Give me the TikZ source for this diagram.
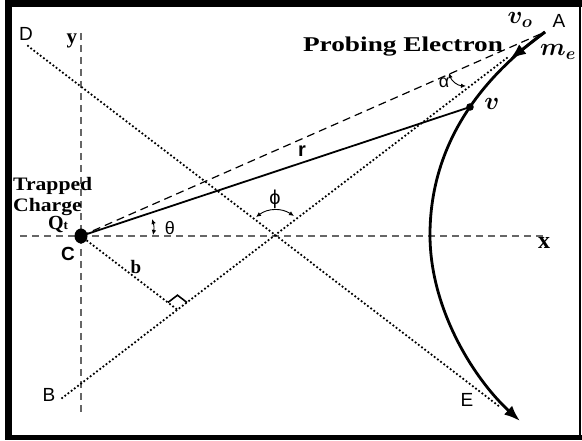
\documentclass[tikz,border=0pt]{standalone}
\usepackage{fontspec}
\setmainfont{Liberation Serif}
\newfontfamily\lsans{Liberation Sans}
\usepackage{bm}
\usetikzlibrary{arrows.meta,calc}
\begin{document}
\begin{tikzpicture}[x=1pt,y=1pt,
  dotline/.style={line width=2.5pt, dash pattern=on 0pt off 4pt, line cap=round},
  axisline/.style={line width=1.3pt, draw=black!60, dash pattern=on 7pt off 5pt},
  dashline/.style={line width=1.2pt, dash pattern=on 8pt off 5pt},
  traj/.style={line width=2.8pt, -{Latex[length=16pt,width=12pt]}},
  anglearc/.style={line width=0.9pt, {Latex[length=5pt,width=4.5pt]}-{Latex[length=5pt,width=4.5pt]}},
  sanslbl/.style={font={\lsans\fontsize{19}{21}\selectfont}, inner sep=0pt},
  greeklbl/.style={font={\lsans\fontsize{18}{20}\selectfont}, inner sep=0pt},
  seriflbl/.style={font={\bfseries\fontsize{20}{22}\selectfont}, inner sep=0pt},
  mathlbl/.style={font={\fontsize{24}{26}\selectfont}, inner sep=0pt}]
\useasboundingbox (0,0) rectangle (582,440);
% frame
\fill[black] (5,0) rectangle (12,440);
\fill[black] (5,433) rectangle (582,440);
\fill[black] (5,0) rectangle (582,5);
\fill[black] (579,0) rectangle (581,440);
% key points
\coordinate (C) at (81,204);
\coordinate (A) at (545,408);
\coordinate (Ab) at (507,382);
\coordinate (B) at (62,42);
\coordinate (D) at (28,394);
\coordinate (E) at (500,33);
\coordinate (v) at (470,333);
\coordinate (V0) at (430,205);
\coordinate (Z) at (520,19);
\coordinate (Cp) at (553,-157);
\coordinate (Ytop) at (81,407);
\coordinate (Ybot) at (81,28);
\coordinate (Xl) at (20,204);
\coordinate (Xr) at (547,204);
\coordinate (F) at (intersection of C--Cp and B--Ab);
% axes
\draw[axisline] (Ytop) -- (Ybot);
\draw[axisline] (Xl) -- (Xr);
% asymptotes and impact parameter
\draw[dotline] (D) -- (E);
\draw[dotline] (B) -- (Ab);
\draw[dotline] (C) -- (F);
\coordinate (F1) at ($(F)!12pt!(C)$);
\coordinate (F2) at ($(F)!12pt!(Ab)$);
\draw[line width=1.6pt] (F1) -- ($(F1)+(F2)-(F)$) -- (F2);
% dashed line C--A
\draw[dashline] (C) -- (A);
% radius
\draw[line width=1.8pt] (C) -- (v);
% trajectory
\draw[line width=2.8pt] (A) .. controls (465,350) and (430,280) .. (V0);
\draw[traj] (V0) .. controls (430,130) and (475,60) .. (Z);
\draw[traj] (A) -- (510,381);
% dots
\fill (C) ellipse (6.5 and 7.5);
\fill (v) circle (3.8);
% angle arcs
\coordinate (th1) at (153,205);
\coordinate (th2) at (152,221);
\draw[anglearc] (th1) to[bend right=15] (th2);
\coordinate (ph1) at (256,223);
\coordinate (ph2) at (294,224);
\draw[anglearc] (ph1) to[bend left=35] (ph2);
\coordinate (al1) at (449,367);
\coordinate (al2) at (466,354);
\draw[anglearc] (al1) to[bend right=35] (al2);
% labels
\node[seriflbl, font={\bfseries\fontsize{21}{23}\selectfont}] (probe) at (403,393) {\scalebox{1.3}[1]{Probing Electron}};
\node[mathlbl] (vo) at (520,420) {$\bm{v_o}$};
\node[sanslbl] (lA) at (559,419) {A};
\node[mathlbl] (me) at (558,388) {$\bm{m_e}$};
\node[greeklbl] (lal) at (444,357) {α};
\node[mathlbl] (lv) at (492,336) {$\bm{v}$};
\node[sanslbl, font={\lsans\bfseries\fontsize{20}{21}\selectfont}] (lr) at (302,289) {r};
\node[greeklbl, font={\lsans\fontsize{20}{21}\selectfont}] (lph) at (275,241) {ϕ};
\node[greeklbl] (lth) at (170,212) {θ};
\node[seriflbl, anchor=west, font={\bfseries\fontsize{19}{21}\selectfont}] (trap) at (13,254) {\scalebox{1.14}[1]{Trapped}};
\node[seriflbl, anchor=west, font={\bfseries\fontsize{19}{21}\selectfont}] (charge) at (13,233) {\scalebox{1.14}[1]{Charge}};
\node[seriflbl] (Qt) at (58,215) {Q{\fontsize{13}{14}\selectfont t}};
\node[sanslbl, font={\lsans\bfseries\fontsize{19}{21}\selectfont}] (lC) at (68,186) {C};
\node[seriflbl, font={\bfseries\fontsize{19}{20}\selectfont}] (lb) at (136,173) {b};
\node[sanslbl] (lD) at (26,406) {D};
\node[seriflbl, font={\bfseries\fontsize{21}{22}\selectfont}] (ly) at (72,399) {y};
\node[sanslbl] (lB) at (49,45) {B};
\node[sanslbl] (lE) at (467,40) {E};
\node[seriflbl, font={\bfseries\fontsize{24}{25}\selectfont}] (lx) at (544,197) {x};
\end{tikzpicture}
\end{document}
